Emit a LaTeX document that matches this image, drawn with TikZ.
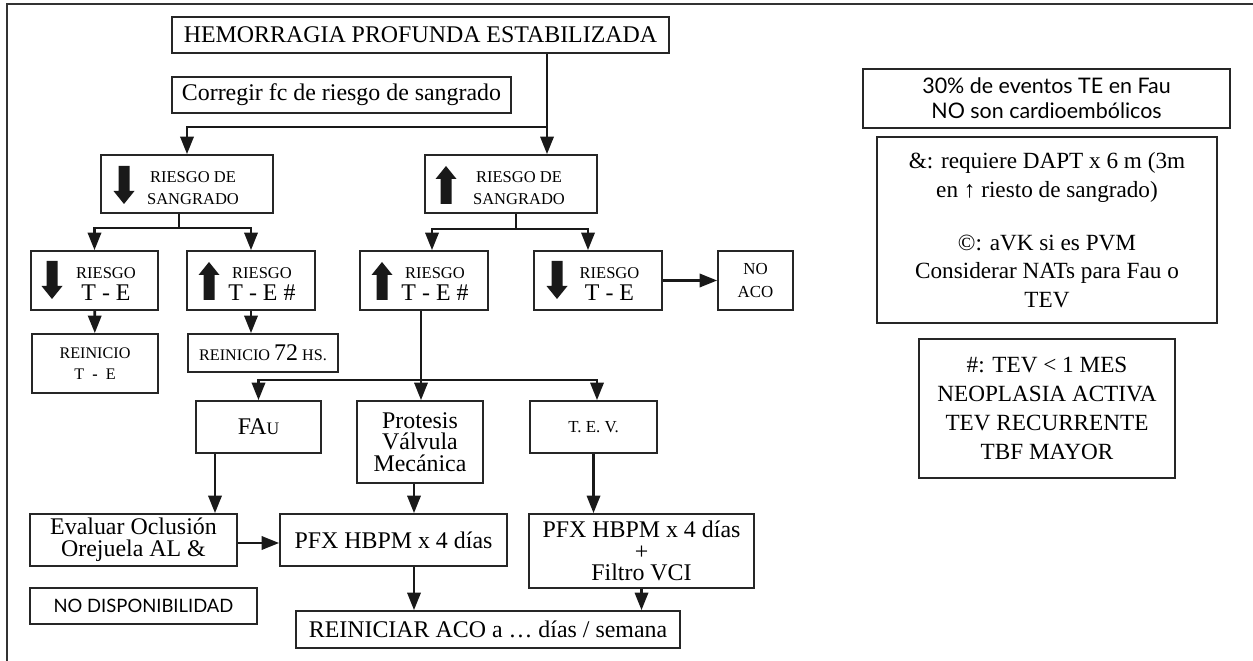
\documentclass[tikz,border=0pt]{standalone}
\usepackage{fontspec}
\setmainfont{Liberation Serif}
\newfontfamily\sansopt{Lato}
\usetikzlibrary{arrows.meta,calc}

\newcommand{\bigtx}{\fontsize{13.6}{16}\selectfont}
\newcommand{\smtx}{\fontsize{9.4}{12.5}\selectfont}

\tikzset{
  pics/arrdn/.style={code={\fill[black!90] (-5.5,-19) -- (5.5,-19) -- (5.5,6) -- (10.5,6) -- (0,19) -- (-10.5,6) -- (-5.5,6) -- cycle;}},
  pics/arrup/.style={code={\fill[black!90] (-5.5,19) -- (5.5,19) -- (5.5,-6) -- (10.5,-6) -- (0,-19) -- (-10.5,-6) -- (-5.5,-6) -- cycle;}},
}

\begin{document}
\begin{tikzpicture}[x=0.02cm, y=-0.02cm,
  box/.style={draw=black!85, line width=0.9pt, inner sep=0pt, align=center, font=\bigtx},
  dims/.style 2 args={minimum width=#1*0.02cm, minimum height=#2*0.02cm},
  lbl/.style={inner sep=0pt, align=center},
  conn/.style={line width=1.6pt, draw=black!90},
  arr/.style={conn, -{Triangle[length=10pt,width=7.5pt]}}]
 \useasboundingbox (0,0) rectangle (1253,661);
 \draw[line width=1pt, black!80] (7,661) -- (7,4) -- (1253,4);

 % top
 \node[box, dims={497}{36}] (hem) at (420.5,35) {HEMORRAGIA PROFUNDA ESTABILIZADA};
 \node[box, dims={339}{36}] (corr) at (341.5,95) {Corregir fc de riesgo de sangrado};

 \node[box, dims={172}{58}] (rdsdn) at (187,184) {};
 \node[lbl, font=\smtx] (rdsdnt) at (193,188) {RIESGO DE\\SANGRADO};
 \pic at (124,185) {arrdn};
 \node[box, dims={172}{58}] (rdsup) at (511,184) {};
 \node[lbl, font=\smtx] (rdsupt) at (519,188) {RIESGO DE\\SANGRADO};
 \pic at (446,185) {arrup};

 % riesgo T-E
 \node[box, dims={127}{59}] (teA) at (94.5,280.5) {};
 \node[lbl, font=\smtx] (teAt) at (106,284) {RIESGO\\{\bigtx T - E}};
 \pic at (52,280) {arrdn};
 \node[box, dims={128}{59}] (teB) at (251,280.5) {};
 \node[lbl, font=\smtx] (teBt) at (262,284) {RIESGO\\{\bigtx T - E \#}};
 \pic at (209,281) {arrup};
 \node[box, dims={128}{59}] (teC) at (424,280.5) {};
 \node[lbl, font=\smtx] (teCt) at (435,284) {RIESGO\\{\bigtx T - E \#}};
 \pic at (382,281) {arrup};
 \node[box, dims={128}{59}] (teD) at (598,280.5) {};
 \node[lbl, font=\smtx] (teDt) at (609.5,284) {RIESGO\\{\bigtx T - E}};
 \pic at (557,280) {arrdn};
 \node[box, dims={75}{59}, font=\fontsize{9.6}{13}\selectfont] (noaco) at (755.5,280.5) {NO\\ACO};

 \node[box, dims={126}{59}, font=\fontsize{9.2}{12}\selectfont] (reA) at (95,363.5) {REINICIO\\T\enspace\textbf{-}\enspace E};
 \node[box, dims={150}{38}, font=\fontsize{9.2}{12}\selectfont] (reB) at (263,353) {REINICIO {\bigtx 72} HS.};

 % lower part
 \node[box, dims={125}{52}] (fau) at (258.5,427) {FA{\fontsize{10}{12}\selectfont U}};
 \node[box, dims={126}{82}, font=\fontsize{13.6}{12.2}\selectfont] (prot) at (420,442) {Protesis\\Válvula\\Mecánica};
 \node[box, dims={127}{52}, font=\fontsize{9.6}{12}\selectfont] (tev) at (593.5,427) {T.\ E.\ V.};
 \node[box, dims={207}{52}, font=\fontsize{13.6}{12.5}\selectfont] (eval) at (133.5,540) {Evaluar Oclusión\\Orejuela AL \&};
 \node[box, dims={227}{52}] (pfx) at (393.5,540) {PFX HBPM x 4 días};
 \node[box, dims={225}{74}, font=\fontsize{13.6}{12.2}\selectfont] (pfx2) at (641.5,551) {PFX HBPM x 4 días\\+\\Filtro VCI};
 \node[box, dims={227}{36}, font=\sansopt\fontsize{10.5}{12}\selectfont] (nodisp) at (143.5,606) {NO DISPONIBILIDAD};
 \node[box, dims={384}{37}] (reini) at (488,629.5) {REINICIAR ACO a … días / semana};

 % notes
 \node[box, dims={367}{59}, font=\sansopt\fontsize{12.2}{14.2}\selectfont] (n30) at (1046.5,98.5) {30\% de eventos TE en Fau\\NO son cardioembólicos};
 \node[box, dims={340}{186}, font=\fontsize{13.2}{16.2}\selectfont] (namp) at (1047,230) {\&: requiere DAPT x 6 m (3m\\en ↑ riesto de sangrado)\\[14pt]©: aVK si es PVM\\Considerar NATs para Fau o\\TEV};
 \node[box, dims={256}{139}, font=\fontsize{13.2}{16.4}\selectfont] (nhash) at (1047,408.5) {\#: TEV < 1 MES\\NEOPLASIA ACTIVA\\TEV RECURRENTE\\TBF MAYOR};

 % connectors
 \coordinate (j1) at (547,127);
 \draw[arr] (hem.south -| j1) -- (rdsup.north -| j1);
 \draw[arr] (j1) -| (rdsdn.north);

 \coordinate (j2) at (179,228);
 \draw[conn] (rdsdn.south -| j2) -- (j2);
 \draw[arr] (j2) -| (teA.north);
 \draw[arr] (j2) -| (teB.north);
 \coordinate (j3) at (516,229);
 \draw[conn] (rdsup.south -| j3) -- (j3);
 \draw[arr] (j3) -| ($(teC.north)+(8,0)$);
 \draw[arr] (j3) -| ($(teD.north)+(-10,0)$);
 \draw[arr] (teD) -- (noaco);

 \draw[arr] (teA) -- (reA);
 \draw[arr] (teB.south) -- (teB.south |- reB.north);

 \coordinate (j4) at (421,380);
 \draw[conn] (teC.south -| j4) -- (j4);
 \draw[arr] (j4) -- (prot.north -| j4);
 \draw[arr] (j4) -| (fau.north);
 \draw[arr] (j4) -| ($(tev.north)+(3.5,0)$);

 \coordinate (c5) at (215,0);
 \coordinate (c6) at (414,0);
 \draw[arr] (fau.south -| c5) -- (eval.north -| c5);
 \draw[arr] (prot.south -| c6) -- (pfx.north -| c6);
 \draw[arr] (tev.south) -- (tev.south |- pfx2.north);
 \draw[arr] ($(eval.east)+(0,3)$) -- ($(pfx.west)+(0,3)$);
 \draw[arr] (pfx.south -| c6) -- (reini.north -| c6);
 \draw[arr] (pfx2.south) -- (pfx2.south |- reini.north);
\end{tikzpicture}
\end{document}
